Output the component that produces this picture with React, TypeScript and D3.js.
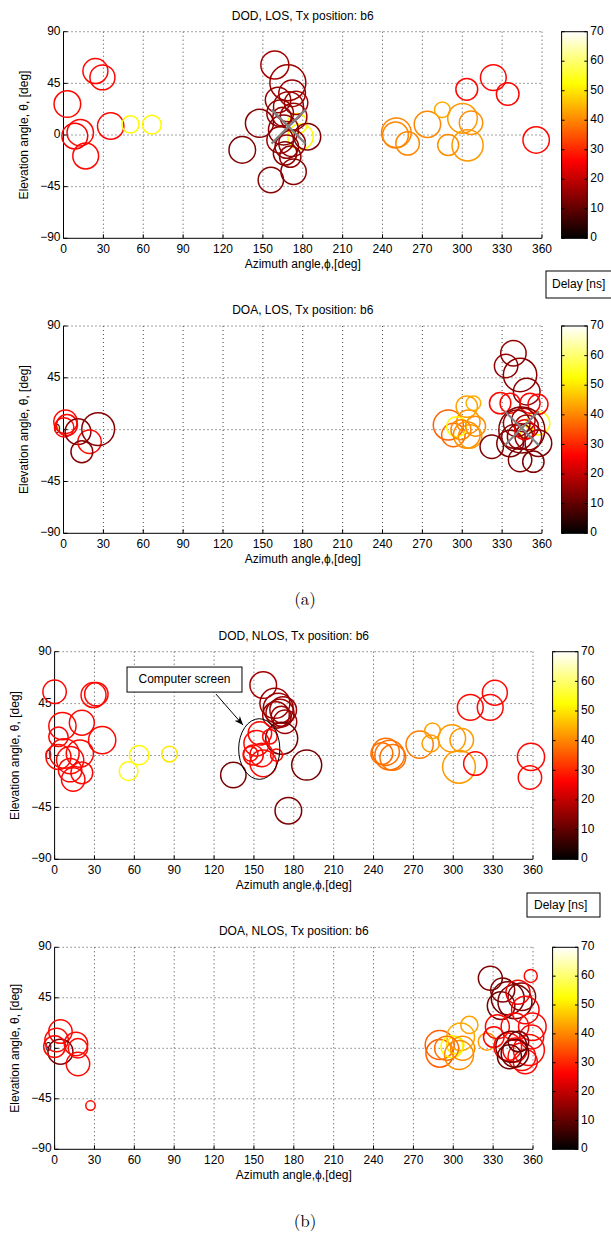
import React from 'react';
import * as d3 from 'd3';

type Ray = [number, number, number, number]; // azimuth [deg], elevation [deg], marker area, delay [ns]

const azTicks = [0, 30, 60, 90, 120, 150, 180, 210, 240, 270, 300, 330, 360];
const elTicks = [-90, -45, 0, 45, 90];
const delayTicks = [0, 10, 20, 30, 40, 50, 60, 70];

const dodLos: Ray[] = [
  [2.9, 27, 177, 27], [24, 55.7, 156, 27], [29.3, 50.2, 156, 27], [35.5, 7.8, 174, 27],
  [50.4, 9.3, 74, 52], [66.5, 9, 88, 52], [12.6, 2, 174, 27], [8.5, -0.9, 166, 26], [16.7, -18.3, 166, 27],
  [250.4, 2, 219, 40], [249.8, 0, 166, 40], [258.9, -7.3, 137, 40], [273.8, 9.3, 174, 40],
  [285, 22, 61, 44], [289.4, -8.7, 110, 41], [300.2, 14.5, 219, 42], [306.6, 10.7, 137, 41],
  [304, -9, 243, 42], [303.4, 39.8, 119, 27], [323.4, 50, 166, 27], [334.2, 35.7, 128, 27], [355.6, -4.3, 174, 27],
  [178.3, -1.5, 161, 52], [176, 10, 100, 52],
  [159, 61, 196, 17], [168.8, 45.6, 324, 16], [172, 36.3, 177, 16], [161.4, 30.5, 161, 15],
  [147.4, 10.2, 196, 14], [134.5, -13, 177, 13], [156, -39.2, 161, 14], [173.1, -32, 161, 14],
  [183.5, -1.5, 177, 13], [163, 19, 177, 15], [169.3, 24.7, 225, 16], [165.5, 4.4, 225, 14],
  [163, -4.3, 177, 15], [168, -10.1, 137, 15], [166.7, -16, 137, 14], [170.6, -18.9, 114, 15],
  [173.1, 16, 177, 16], [175, 28, 137, 17], [164.5, 16, 87, 15], [172, -7.2, 177, 15],
];
const dodLosDirect: [number, number] = [169.3, 7.3];

const doaLos: Ray[] = [
  [1.5, 6.9, 137, 27], [2.6, 4, 110, 27], [0.5, 2, 94, 27], [10.9, -1.8, 166, 14],
  [19.6, -10.5, 137, 27], [13.8, -19.2, 119, 14], [26.1, 0.5, 269, 14],
  [289.5, 4, 225, 36], [293.3, -4.6, 137, 37], [303.4, -4.6, 177, 41], [304.6, 6.9, 137, 41],
  [303.4, 20, 114, 43], [308.4, 23, 53, 44], [295.8, 2.6, 100, 52], [299, 0, 100, 40],
  [305.9, -6, 137, 42], [310, 3, 100, 41],
  [357, 5.5, 137, 52], [348.5, -2, 45, 52],
  [338.5, 66.3, 161, 15], [333, 55.3, 137, 15], [343.5, 47.5, 279, 14], [348.5, 33, 177, 14],
  [328.5, 23, 114, 27], [336, 23, 100, 27], [351, 23, 100, 27], [357, 22, 100, 27],
  [344.8, -0.3, 529, 13], [322.2, -14.8, 137, 13], [343.5, -26.3, 137, 13], [353.5, -27.8, 114, 13],
  [357.3, -11.8, 177, 13], [336, -12, 177, 13], [341, 5.5, 177, 15], [348.5, 2.6, 137, 17],
  [343.5, -6, 161, 14], [346, 8.4, 137, 16], [338.5, -6, 137, 14], [349.7, -6, 177, 15], [347, 0, 100, 25],
];
const doaLosDirect: [number, number] = [344.8, 1.2];

const dodNlos: Ray[] = [
  [0, 55.3, 137, 27], [29.3, 52.4, 156, 27], [31.4, 53.2, 137, 27], [5.9, 25.5, 185, 27],
  [20.5, 28.4, 156, 27], [35.8, 13.3, 185, 27], [2.9, 16.2, 94, 27], [7.3, 1.7, 219, 27],
  [19, 1.7, 185, 27], [11.7, -4, 185, 27], [11.7, -12.7, 137, 27], [20.5, -15, 119, 27],
  [14, -20.8, 137, 27], [2.9, -1.2, 156, 27],
  [63.6, 0.3, 94, 52], [55.7, -13.6, 88, 52], [86.5, 1.2, 61, 50],
  [157, 61.1, 177, 17], [165.8, 45.2, 225, 16], [168.3, 40.9, 225, 16], [169.6, 36.6, 196, 16],
  [166.6, 35.1, 177, 16], [172, 39.4, 177, 16], [173.4, 29.3, 137, 16], [170.5, 34, 100, 16],
  [170.9, 14.9, 256, 12], [162, 16.3, 53, 27], [152, 10.6, 161, 27], [154.5, 19.2, 137, 27],
  [149.5, 0.4, 100, 27], [155.8, 0.4, 137, 27], [157, -6.8, 177, 27], [147.5, 1.5, 53, 27],
  [167, 0.4, 36, 27], [134.5, -16.9, 161, 12], [189.7, -8.3, 225, 12], [175.9, -47.9, 177, 13],
  [249.2, 3.2, 185, 38], [252.1, 0.3, 219, 38], [254.5, -1.7, 166, 38], [246.3, 1.7, 119, 38],
  [274.7, 9.5, 185, 39], [284.4, 21.4, 61, 43], [283, 10.4, 74, 42], [299, 14.8, 185, 42],
  [306.4, 13.3, 137, 42], [304.3, -9.8, 269, 42], [316.6, -7, 137, 27], [312.8, 41.7, 166, 27],
  [327.8, 41.7, 166, 27], [331.3, 54.4, 156, 27], [358.5, -1.2, 185, 27], [357.7, -19.1, 137, 27],
];

const doaNlos: Ray[] = [
  [4.4, 14.9, 137, 27], [1.5, 7.4, 137, 27], [4.4, -3, 156, 13], [0, 1.5, 119, 27],
  [16.1, 3.9, 137, 27], [17.6, 0, 94, 27], [17.6, -14, 137, 27], [27, -51, 22, 27],
  [289.8, 2.9, 210, 36], [289.8, -4.5, 190, 36], [305.6, 10.3, 190, 44], [312.1, 20.8, 74, 43],
  [299, 1.4, 121, 52], [301.5, 2.9, 74, 50], [304.3, -6, 210, 41], [307, 0, 144, 41],
  [325.3, 5.9, 74, 42], [295, 0, 144, 38],
  [327.9, 62.4, 144, 13], [337.2, 52, 144, 13], [358.3, 64.5, 42, 27], [341, 44.5, 272, 12],
  [346.4, 41.5, 289, 12], [351.6, 46, 190, 14], [336, 38, 190, 12], [348.7, 50, 144, 25],
  [354.2, 34.1, 190, 26], [333.2, 19.2, 144, 27], [346.4, 19.2, 190, 27], [359.5, 19.2, 190, 27],
  [341, 1.4, 190, 27], [356.9, -1.5, 240, 27], [351.6, -7.5, 190, 27], [346.4, -1.5, 144, 26],
  [354.2, -12, 144, 27], [359, 10, 144, 27], [330.5, 10, 106, 27],
  [343.7, 1.4, 240, 12], [346.4, -4.5, 190, 11], [349, 6, 106, 12], [342.3, -7.5, 144, 11],
];

// annotation on DOD NLOS (data coordinates)
const screenEllipse = { az: 154, el: 5.6, daz: 15.5, del: 26.3 };
const screenBox = { az0: 54.5, az1: 141, el0: 76.7, el1: 55, text: 'Computer screen' };
const screenArrow = { az0: 121.4, el0: 53.3, az1: 141.8, el1: 26.4 };

const FONT = '"Liberation Sans", Arial, Helvetica, sans-serif';

const clamp = (v: number) => Math.max(0, Math.min(1, v));
function hot(v: number): string {
  const t = v / 70;
  const r = clamp(t / 0.375);
  const g = clamp((t - 0.375) / 0.375);
  const b = clamp((t - 0.75) / 0.25);
  return d3.rgb(r * 255, g * 255, b * 255).formatHex();
}

const rScale = d3.scaleSqrt().domain([0, 400]).range([0, 20]);

type Frame = { x0: number; x1: number; y0: number; y1: number; cbx: number; cbw: number };

function Panel({ id, f, title, rays, direct, annot }: { id: string; f: Frame; title: string; rays: Ray[]; direct?: [number, number]; annot?: boolean }) {
  const x = d3.scaleLinear().domain([0, 360]).range([f.x0, f.x1]);
  const y = d3.scaleLinear().domain([-90, 90]).range([f.y1, f.y0]);
  const cy = d3.scaleLinear().domain([0, 70]).range([f.y1, f.y0]);
  const gradStops = d3.range(0, 71, 1);
  const dot = '#444';
  return (
    <g>
      <defs>
        <linearGradient id={`cb-${id}`} x1="0" y1="1" x2="0" y2="0">
          {gradStops.map((v) => (
            <stop key={v} offset={`${(v / 70) * 100}%`} stopColor={hot(v)} />
          ))}
        </linearGradient>
      </defs>
      {/* grid */}
      {azTicks.filter((t) => t !== 0).map((t) => (
        <line key={`gx${t}`} x1={x(t)} x2={x(t)} y1={f.y0} y2={f.y1} stroke={dot} strokeWidth={1} strokeDasharray="1,3" />
      ))}
      {elTicks.filter((t) => t !== -90).map((t) => (
        <line key={`gy${t}`} x1={f.x0} x2={f.x1} y1={y(t)} y2={y(t)} stroke={dot} strokeWidth={1} strokeDasharray="1,3" />
      ))}
      {/* axes */}
      <line x1={f.x0} x2={f.x0} y1={f.y0} y2={f.y1} stroke="#000" strokeWidth={1} />
      <line x1={f.x0} x2={f.x1} y1={f.y1} y2={f.y1} stroke="#000" strokeWidth={1} />
      {azTicks.map((t) => (
        <g key={`tx${t}`}>
          <line x1={x(t)} x2={x(t)} y1={f.y1} y2={f.y1 - 4} stroke="#000" />
          <text x={x(t)} y={f.y1 + 11.5} textAnchor="middle" dominantBaseline="middle" fontSize={12} fontFamily={FONT}>{t}</text>
        </g>
      ))}
      {elTicks.map((t) => (
        <g key={`ty${t}`}>
          <line x1={f.x0} x2={f.x0 + 4} y1={y(t)} y2={y(t)} stroke="#000" />
          <text x={f.x0 - 3} y={y(t)} textAnchor="end" dominantBaseline="middle" fontSize={12} fontFamily={FONT}>{t < 0 ? `\u2212${-t}` : t}</text>
        </g>
      ))}
      <text x={(f.x0 + f.x1) / 2} y={f.y0 - 15} textAnchor="middle" dominantBaseline="middle" fontSize={12} fontFamily={FONT}>{title}</text>
      <text x={(f.x0 + f.x1) / 2} y={f.y1 + 26.5} textAnchor="middle" dominantBaseline="middle" fontSize={12} fontFamily={FONT}>Azimuth angle,ϕ,[deg]</text>
      <text transform={`translate(${f.x0 - 39},${(f.y0 + f.y1) / 2}) rotate(-90)`} textAnchor="middle" dominantBaseline="middle" fontSize={12} fontFamily={FONT}>Elevation angle, θ, [deg]</text>
      {/* rays */}
      {rays.map((r, i) => (
        <circle key={i} cx={x(r[0])} cy={y(r[1])} r={rScale(r[2])} fill="none" stroke={hot(r[3])} strokeWidth={1.5} />
      ))}
      {direct && (
        <g stroke="#808080" strokeWidth={2.2}>
          <line x1={x(direct[0]) - 17} x2={x(direct[0]) + 17} y1={y(direct[1]) - 17} y2={y(direct[1]) + 17} />
          <line x1={x(direct[0]) - 17} x2={x(direct[0]) + 17} y1={y(direct[1]) + 17} y2={y(direct[1]) - 17} />
        </g>
      )}
      {annot && (
        <g>
          <ellipse cx={x(screenEllipse.az)} cy={y(screenEllipse.el)} rx={x(screenEllipse.daz) - x(0)} ry={y(0) - y(screenEllipse.del)} fill="none" stroke="#000" strokeWidth={1} />
          <rect x={x(screenBox.az0)} y={y(screenBox.el0)} width={x(screenBox.az1) - x(screenBox.az0)} height={y(screenBox.el1) - y(screenBox.el0)} fill="#fff" stroke="#000" strokeWidth={1} />
          <text x={(x(screenBox.az0) + x(screenBox.az1)) / 2} y={(y(screenBox.el0) + y(screenBox.el1)) / 2} textAnchor="middle" dominantBaseline="middle" fontSize={12} fontFamily={FONT}>{screenBox.text}</text>
          <line x1={x(screenArrow.az0)} y1={y(screenArrow.el0)} x2={x(screenArrow.az1)} y2={y(screenArrow.el1)} stroke="#000" strokeWidth={1} markerEnd="url(#arrowhead)" />
        </g>
      )}
      {/* colorbar */}
      <rect x={f.cbx} y={f.y0} width={f.cbw} height={f.y1 - f.y0} fill={`url(#cb-${id})`} stroke="#000" strokeWidth={1} />
      {delayTicks.map((t) => (
        <g key={`cb${t}`}>
          <line x1={f.cbx} x2={f.cbx + 3} y1={cy(t)} y2={cy(t)} stroke="#000" />
          <line x1={f.cbx + f.cbw} x2={f.cbx + f.cbw - 3} y1={cy(t)} y2={cy(t)} stroke="#000" />
          <text x={f.cbx + f.cbw + 3} y={cy(t)} dominantBaseline="middle" fontSize={12} fontFamily={FONT}>{t}</text>
        </g>
      ))}
    </g>
  );
}

export default function App() {
  const f1: Frame = { x0: 63.5, x1: 542, y0: 31.7, y1: 238.3, cbx: 561.6, cbw: 25.7 };
  const f2: Frame = { x0: 63.5, x1: 542, y0: 326, y1: 533.3, cbx: 561.6, cbw: 25.7 };
  const f3: Frame = { x0: 54.6, x1: 533, y0: 651.7, y1: 859.3, cbx: 552.6, cbw: 25.4 };
  const f4: Frame = { x0: 54.6, x1: 533, y0: 947.3, y1: 1149.3, cbx: 552.6, cbw: 25.4 };
  return (
    <svg width={611} height={1241} style={{ position: 'absolute', left: 0, top: 0, background: '#fff' }}>
      <defs>
        <marker id="arrowhead" viewBox="0 0 10 10" refX="10" refY="5" markerWidth="9" markerHeight="9" orient="auto" markerUnits="userSpaceOnUse">
          <path d="M0,1 L10,5 L0,9 L3,5 Z" fill="#000" />
        </marker>
      </defs>
      <rect x={0} y={0} width={611} height={1241} fill="#fff" />
      <Panel id="p1" f={f1} title="DOD, LOS, Tx position: b6" rays={dodLos} direct={dodLosDirect} />
      <Panel id="p2" f={f2} title="DOA, LOS, Tx position: b6" rays={doaLos} direct={doaLosDirect} />
      <rect x={546} y={271} width={70} height={27} fill="#fff" stroke="#000" strokeWidth={1} />
      <text x={552} y={285} dominantBaseline="middle" fontSize={12} fontFamily={FONT}>Delay [ns]</text>
      <text x={305} y={601.5} textAnchor="middle" dominantBaseline="middle" fontSize={17} fontFamily='"Latin Modern Roman", "DejaVu Serif", "Liberation Serif", serif'>(a)</text>
      <Panel id="p3" f={f3} title="DOD, NLOS, Tx position: b6" rays={dodNlos} annot />
      <Panel id="p4" f={f4} title="DOA, NLOS, Tx position: b6" rays={doaNlos} />
      <rect x={527} y={893} width={73} height={24} fill="#fff" stroke="#000" strokeWidth={1} />
      <text x={534} y={905.5} dominantBaseline="middle" fontSize={12} fontFamily={FONT}>Delay [ns]</text>
      <text x={305} y={1223} textAnchor="middle" dominantBaseline="middle" fontSize={17} fontFamily='"Latin Modern Roman", "DejaVu Serif", "Liberation Serif", serif'>(b)</text>
    </svg>
  );
}
